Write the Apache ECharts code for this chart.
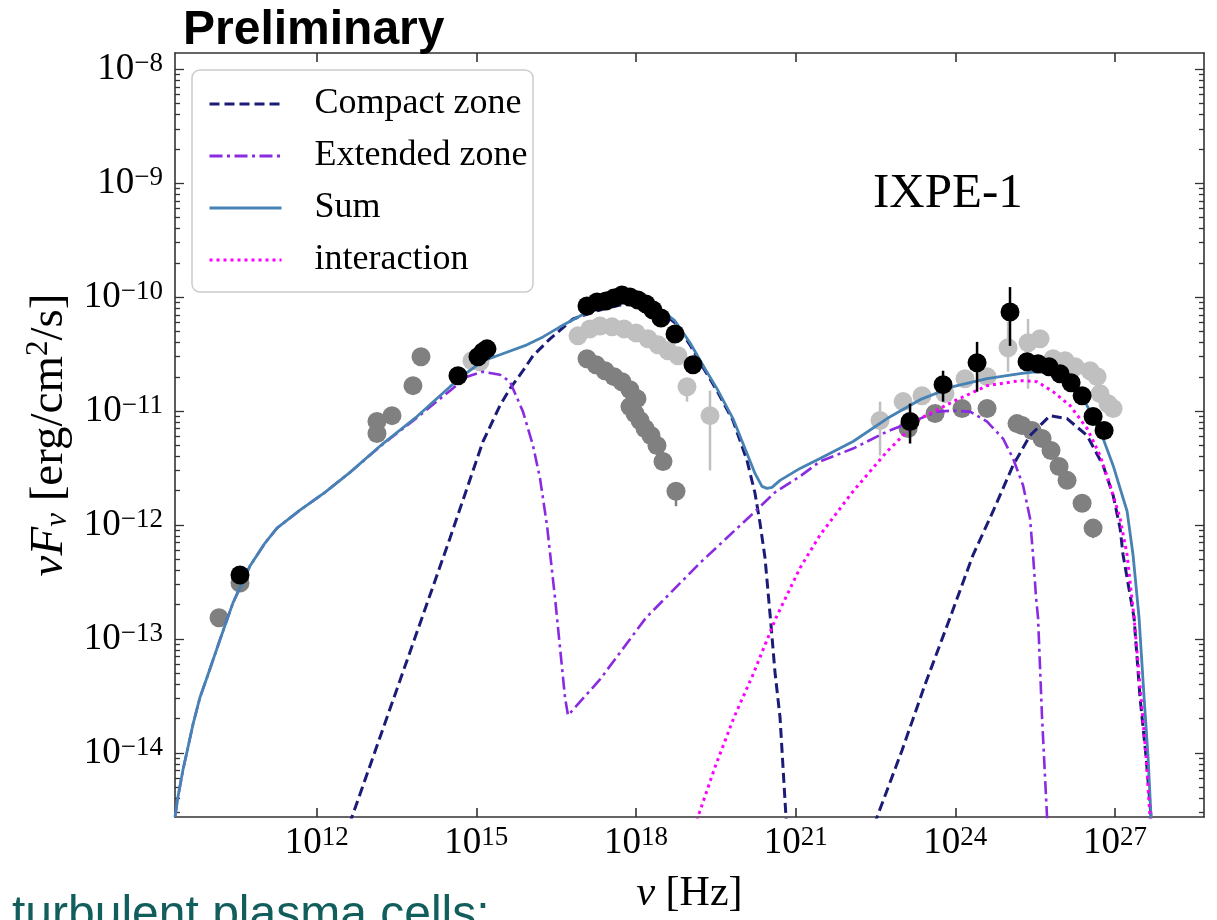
<!DOCTYPE html>
<html><head><meta charset="utf-8">
<script src="https://cdn.jsdelivr.net/npm/echarts@6/dist/echarts.min.js"></script>
<style>html,body{margin:0;padding:0;background:#fff}#c{width:1217px;height:920px}</style>
</head><body><div id="c"></div>
<script>
// All values are log10: x = log10(nu / Hz), y = log10(nuFnu / erg cm^-2 s^-1)
const xTickExps = [12, 15, 18, 21, 24, 27];
const yTickExps = [-8, -9, -10, -11, -12, -13, -14];
const xRange = [9.338, 28.672];
const yRange = [-14.562, -7.858];

const compactSync = [[12.331,-15.0],[12.663,-14.562],[13.565,-13.364],[14.505,-12.115],[14.824,-11.678],[15.125,-11.267],[15.444,-10.952],[15.632,-10.803],[15.876,-10.646],[16.064,-10.515],[16.384,-10.366],[16.816,-10.192],[17.323,-10.113],[17.699,-10.069],[18.075,-10.060],[18.451,-10.122],[18.733,-10.226],[19.014,-10.419],[19.296,-10.646],[19.521,-10.821],[19.822,-11.083],[20.085,-11.433],[20.236,-11.721],[20.330,-11.983],[20.424,-12.289],[20.536,-12.875],[20.612,-13.295],[20.706,-13.688],[20.818,-14.562],[20.893,-15.0]];
const compactIC = [[22.171,-15.0],[22.529,-14.562],[22.999,-13.976],[23.431,-13.399],[23.900,-12.814],[24.332,-12.263],[24.709,-11.879],[25.084,-11.477],[25.403,-11.215],[25.779,-11.040],[26.099,-11.066],[26.476,-11.215],[26.776,-11.477],[26.964,-11.739],[27.095,-12.027],[27.152,-12.263],[27.358,-12.814],[27.470,-13.513],[27.584,-14.036],[27.677,-14.562],[27.72,-15.0]];
const extendedZone = [[9.338,-14.562],[9.394,-14.387],[9.488,-14.148],[9.582,-13.950],[9.676,-13.749],[9.807,-13.513],[9.939,-13.338],[10.183,-13.006],[10.427,-12.683],[10.747,-12.359],[11.029,-12.158],[11.254,-12.027],[11.686,-11.870],[12.156,-11.713],[12.626,-11.538],[13.246,-11.290],[13.884,-11.058],[14.505,-10.821],[14.824,-10.698],[15.125,-10.655],[15.444,-10.681],[15.632,-10.742],[15.876,-11.005],[16.064,-11.302],[16.196,-11.590],[16.327,-12.001],[16.478,-12.639],[16.572,-13.076],[16.666,-13.513],[16.722,-13.670],[17.323,-13.355],[18.187,-12.814],[19.202,-12.333],[20.142,-11.923],[20.612,-11.713],[21.082,-11.573],[21.457,-11.442],[22.078,-11.329],[22.717,-11.180],[23.337,-11.066],[23.656,-11.005],[23.957,-10.996],[24.276,-11.005],[24.596,-11.092],[24.896,-11.241],[25.084,-11.416],[25.272,-11.652],[25.403,-11.940],[25.460,-12.263],[25.517,-12.639],[25.554,-12.814],[25.629,-13.688],[25.723,-14.562],[25.761,-15.0]];
const sumModel = [[9.338,-14.562],[9.394,-14.387],[9.488,-14.148],[9.582,-13.950],[9.676,-13.749],[9.807,-13.513],[9.939,-13.338],[10.183,-13.006],[10.427,-12.683],[10.747,-12.359],[11.029,-12.158],[11.254,-12.027],[11.686,-11.870],[12.156,-11.713],[12.626,-11.538],[13.246,-11.285],[13.884,-11.048],[14.505,-10.786],[14.824,-10.663],[15.125,-10.559],[15.444,-10.506],[15.951,-10.419],[16.252,-10.349],[16.572,-10.261],[16.947,-10.165],[17.323,-10.095],[17.699,-10.052],[18.075,-10.043],[18.451,-10.104],[18.733,-10.209],[19.014,-10.401],[19.296,-10.628],[19.521,-10.803],[19.822,-11.066],[20.085,-11.372],[20.236,-11.547],[20.367,-11.661],[20.461,-11.678],[20.555,-11.670],[20.706,-11.608],[21.082,-11.503],[21.457,-11.416],[22.078,-11.267],[22.717,-11.066],[23.337,-10.900],[23.957,-10.786],[24.596,-10.716],[25.215,-10.672],[25.498,-10.655],[25.779,-10.663],[26.062,-10.716],[26.344,-10.821],[26.588,-11.066],[26.776,-11.241],[26.964,-11.477],[27.227,-11.879],[27.339,-12.263],[27.452,-12.814],[27.546,-13.513],[27.621,-14.036],[27.677,-14.562],[27.72,-15.0]];
const interaction = [[18.845,-15.0],[19.183,-14.535],[19.484,-14.124],[19.841,-13.688],[20.198,-13.312],[20.630,-12.814],[21.082,-12.377],[21.457,-12.088],[22.078,-11.704],[22.717,-11.355],[23.337,-11.066],[23.957,-10.917],[24.596,-10.777],[25.215,-10.733],[25.535,-10.742],[25.836,-10.830],[26.156,-10.952],[26.476,-11.153],[26.719,-11.390],[26.907,-11.652],[27.095,-11.940],[27.227,-12.263],[27.358,-12.814],[27.489,-13.513],[27.584,-14.036],[27.658,-14.562],[27.70,-15.0]];

// Observations
const ixpeData = [[10.559,-12.438],[14.655,-10.690],[15.031,-10.524],[15.125,-10.480],[15.200,-10.454],[17.079,-10.078],[17.267,-10.043],[17.436,-10.034],[17.586,-10.008],[17.736,-9.982],[17.886,-9.999],[18.037,-10.025],[18.187,-10.060],[18.319,-10.113],[18.469,-10.183],[18.733,-10.323],[19.071,-10.594],[23.149,-11.092],[23.769,-10.768],[24.408,-10.576],[25.027,-10.130],[25.347,-10.567],[25.554,-10.585],[25.761,-10.611],[25.968,-10.672],[26.175,-10.751],[26.382,-10.865],[26.588,-11.048],[26.795,-11.171]];
const ixpeErr = [[23.149,-11.285,-10.935],[23.769,-10.917,-10.646],[24.408,-10.830,-10.393],[25.027,-10.428,-9.912]];
const lightData = [[14.918,-10.559],[15.068,-10.567],[16.910,-10.340],[17.135,-10.279],[17.323,-10.253],[17.549,-10.261],[17.774,-10.279],[17.999,-10.314],[18.225,-10.366],[18.413,-10.419],[18.601,-10.471],[18.789,-10.515],[18.958,-10.786],[19.390,-11.040],[22.585,-11.083],[23.018,-10.917],[23.374,-10.865],[23.806,-10.847],[24.182,-10.716],[24.596,-10.698],[24.990,-10.445],[25.366,-10.401],[25.592,-10.366],[25.836,-10.541],[26.062,-10.559],[26.250,-10.611],[26.532,-10.646],[26.663,-10.698],[26.719,-10.847],[26.870,-10.935],[26.964,-10.978]];
const lightErr = [[18.958,-10.917,-10.716],[19.390,-11.521,-10.821],[22.585,-11.390,-10.917],[24.990,-10.655,-10.218],[25.366,-10.803,-10.192]];
const darkData = [[10.165,-12.814],[10.559,-12.508],[13.133,-11.092],[13.133,-11.197],[13.415,-11.040],[13.809,-10.777],[13.960,-10.524],[17.079,-10.541],[17.248,-10.594],[17.417,-10.646],[17.586,-10.698],[17.736,-10.742],[17.886,-10.812],[18.018,-10.891],[17.886,-10.961],[17.980,-11.022],[18.075,-11.083],[18.169,-11.153],[18.281,-11.215],[18.394,-11.302],[18.507,-11.442],[18.751,-11.704],[23.112,-11.153],[23.619,-11.022],[24.126,-10.978],[24.596,-10.978],[25.159,-11.110],[25.253,-11.127],[25.441,-11.171],[25.629,-11.241],[25.798,-11.346],[25.949,-11.486],[26.099,-11.608],[26.382,-11.809],[26.588,-12.027]];
const darkErr = [[18.751,-11.835,-11.704],[26.588,-12.115,-12.027]];

const SERIF = 'Liberation Serif';
const yMinor = [];
for (let n = -15; n <= -8; n++) for (let k = 2; k <= 9; k++) {
  const v = n + Math.log10(k);
  if (v > yRange[0] && v < yRange[1]) yMinor.push(v);
}
const sup = v => String(Math.round(v)).replace('-', '\u2212');
const tickRich = {
  b: {fontSize: 37, fontFamily: SERIF, color: '#000', verticalAlign: 'bottom', lineHeight: 38},
  s: {fontSize: 27, fontFamily: SERIF, color: '#000', verticalAlign: 'top', lineHeight: 26}
};
const lineCol = '#333';
function xAxisDef(pos, labels) {
  return {
    type: 'value', position: pos, min: xRange[0], max: xRange[1],
    axisLine: {show: true, onZero: false, lineStyle: {color: lineCol, width: 1.6}},
    axisTick: {show: true, inside: true, length: 9, customValues: xTickExps, lineStyle: {color: lineCol, width: 1.6}},
    axisLabel: labels ? {show: true, customValues: xTickExps, margin: 7, formatter: v => '{b|10}{s|' + sup(v) + '}', rich: tickRich} : {show: false},
    splitLine: {show: false},
    name: labels ? '{i|\u03bd} [Hz]' : '', nameLocation: 'middle', nameGap: 56,
    nameTextStyle: {fontFamily: SERIF, fontSize: 42, color: '#000', rich: {i: {fontFamily: SERIF, fontStyle: 'italic', fontSize: 42, color: '#000'}}}
  };
}
function yAxisDef(pos, minor, labels) {
  return {
    type: 'value', position: pos, min: yRange[0], max: yRange[1],
    axisLine: {show: !minor, onZero: false, lineStyle: {color: lineCol, width: 1.6}},
    axisTick: {show: true, inside: true, length: minor ? 5 : 9, customValues: minor ? yMinor : yTickExps, lineStyle: {color: lineCol, width: 1.3}},
    axisLabel: labels ? {show: true, customValues: yTickExps, margin: 12, formatter: v => '{b|10}{s|' + sup(v) + '}', rich: tickRich} : {show: false},
    splitLine: {show: false},
    name: labels ? '{i|\u03bdF}{sub|\u03bd}{r| [erg/cm}{sp|2}{r|/s]}' : '', nameLocation: 'middle', nameGap: 101, nameRotate: 90,
    nameTextStyle: {fontFamily: SERIF, fontSize: 47, color: '#000', rich: {
      i: {fontFamily: SERIF, fontStyle: 'italic', fontSize: 47, color: '#000', verticalAlign: 'bottom', lineHeight: 50},
      sub: {fontFamily: SERIF, fontStyle: 'italic', fontSize: 31, color: '#000', verticalAlign: 'bottom', lineHeight: 38},
      r: {fontFamily: SERIF, fontSize: 47, color: '#000', verticalAlign: 'bottom', lineHeight: 50},
      sp: {fontFamily: SERIF, fontSize: 31, color: '#000', verticalAlign: 'top', lineHeight: 30}
    }}
  };
}
const errRender = color => function (params, api) {
  const p1 = api.coord([api.value(0), api.value(1)]);
  const p2 = api.coord([api.value(0), api.value(2)]);
  return {type: 'line', shape: {x1: p1[0], y1: p1[1], x2: p2[0], y2: p2[1]}, style: {stroke: color, lineWidth: 2.5}};
};
function errSeries(data, color, z) {
  return {type: 'custom', data: data, encode: {x: 0, y: [1, 2]}, renderItem: errRender(color), z: z, silent: true};
}
function dots(data, color, z) {
  return {type: 'scatter', data: data, symbol: 'circle', symbolSize: 19, itemStyle: {color: color, opacity: 1}, z: z, silent: true};
}
function curve(name, data, color, type, width) {
  return {name: name, type: 'line', data: data, showSymbol: false, symbol: 'none', smooth: false, clip: true, z: 3,
    lineStyle: {color: color, width: width, type: type}, itemStyle: {color: color}};
}

const chart = echarts.init(document.getElementById('c'), null, {renderer: 'canvas'});
chart.setOption({
  animation: false,
  backgroundColor: '#fff',
  grid: {left: 175, right: 13, top: 53, bottom: 100, containLabel: false},
  xAxis: [xAxisDef('bottom', true), xAxisDef('top', false)],
  yAxis: [yAxisDef('left', false, true), yAxisDef('left', true, false), yAxisDef('right', false, false), yAxisDef('right', true, false)],
  legend: {
    data: ['Compact zone', 'Extended zone', 'Sum', 'interaction'],
    orient: 'vertical', left: 192, top: 70, padding: [16, 10, 14, 16],
    itemWidth: 72, itemHeight: 18, itemGap: 16, z: 6,
    itemStyle: {opacity: 0},
    lineStyle: {width: 3},
    textStyle: {fontFamily: SERIF, fontSize: 36, color: '#000', padding: [0, 0, 0, 28]}
  },
  graphic: [
    {type: 'rect', z: 5, shape: {x: 192, y: 70, width: 341, height: 222, r: 8}, style: {fill: 'rgba(255,255,255,0.85)', stroke: '#cccccc', lineWidth: 1.5}},
    {type: 'text', z: 10, style: {text: 'Preliminary', x: 183, y: 31, font: 'bold 48px "Liberation Sans", Arial, sans-serif', fill: '#000', textVerticalAlign: 'middle'}},
    {type: 'text', z: 10, style: {text: 'IXPE-1', x: 873, y: 194, font: '49px "Liberation Serif", serif', fill: '#000', textVerticalAlign: 'middle'}},
    {type: 'text', z: 10, style: {text: 'turbulent plasma cells:', x: 12, y: 916, font: '48px "Liberation Sans", Arial, sans-serif', fill: '#125e5c', textVerticalAlign: 'middle'}}
  ],
  series: [
    errSeries(lightErr, '#c0c0c0', 1), dots(lightData, '#c0c0c0', 1),
    errSeries(darkErr, '#808080', 2), dots(darkData, '#808080', 2),
    curve('Compact zone', compactSync.concat([['-', '-']], compactIC), '#1b1b78', [10, 5], 3),
    curve('Extended zone', extendedZone, '#8a2be2', [13, 4.5, 3, 4.5], 2.6),
    curve('Sum', sumModel, '#4682b4', 'solid', 2.8),
    curve('interaction', interaction, '#ff00ff', [3, 4], 3),
    errSeries(ixpeErr, '#000', 8), dots(ixpeData, '#000', 9)
  ]
});
</script></body></html>
